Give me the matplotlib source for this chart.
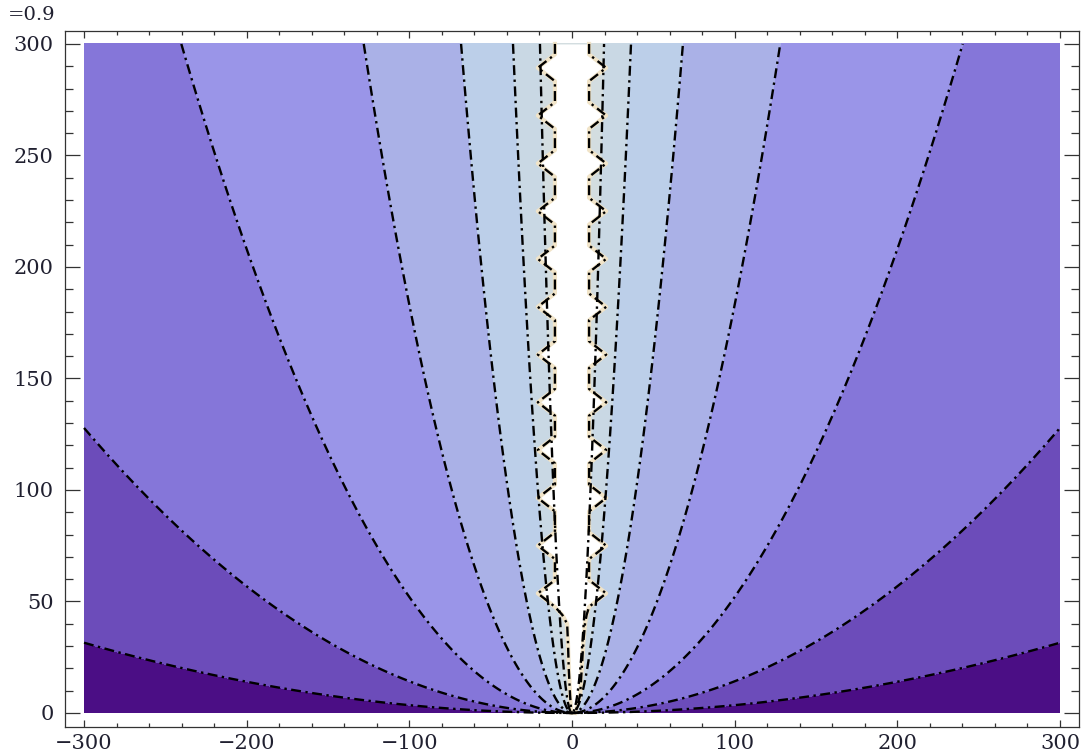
import numpy as np
import matplotlib.pyplot as plt

levels = [3.5e-4, 1.42e-3, 5.2e-3, 0.0183, 0.0645, 0.228, 0.773]
band_colors = ['#4b0e85', '#6c4cba', '#8576d9', '#9a95e8',
               '#aab1e7', '#bccfe9', '#c9d8e4', '#d3dde0']

# white gap around x = 0 (zigzag edge of the original plot)
tip_y = [289.3, 267.9, 246.4, 225.0, 203.6, 182.1,
         160.7, 139.3, 117.9, 96.4, 75.0, 53.6]
tip_x = 21.0
inner_x = 10.5
tail_y = [44, 40, 32, 20, 8, 0]
tail_left = [-6, -3, -2.5, -2, -1.2, -0.4]
tail_right = [9, 8, 7, 6, 5, 2]

xticks = [-300, -200, -100, 0, 100, 200, 300]
yticks = [0, 50, 100, 150, 200, 250, 300]
corner_label = '=0.9'

dashdot = (0, (4.2, 1.9, 1.0, 1.9))
line_w = 1.7
tick_font = {'family': 'DejaVu Serif', 'size': 15}

fig = plt.figure(figsize=(10.83, 7.56), dpi=100)
ax = fig.add_axes([65 / 1083, 29 / 756, 1014 / 1083, 696 / 756])

x = np.linspace(-300, 300, 1200)
y = np.linspace(0, 300, 600)
X, Y = np.meshgrid(x, y)
F = Y / X**2

ax.contourf(X, Y, F, levels=[-1] + levels + [1e12], colors=band_colors, zorder=1)
cs = ax.contour(X, Y, F, levels=levels, colors='black', linewidths=line_w, zorder=3)
cs.set_linestyle(dashdot)

# gap outline
gy, gl, gr = [300.0], [-inner_x], [inner_x]
for t in tip_y:
    gy += [t + 6, t, t - 6]
    gl += [-inner_x, -tip_x, -inner_x]
    gr += [inner_x, tip_x, inner_x]
gy += tail_y
gl += tail_left
gr += tail_right

ax.fill_betweenx(gy, gl, gr, color='white', lw=0, zorder=2)
for side in (gl, gr):
    ax.plot(side, gy, color='#f1e4c8', lw=3.0, zorder=2.5)
    ax.plot(side, gy, color='black', lw=line_w, ls=dashdot, zorder=4)

ax.set_xlim(-311.7, 311.7)
ax.set_ylim(-6.3, 305.8)
ax.set_xticks(xticks)
ax.set_yticks(yticks)
ax.set_xticks(np.arange(-300, 301, 20), minor=True)
ax.set_yticks(np.arange(0, 301, 10), minor=True)
ax.set_xticklabels([f'{v:d}'.replace('-', '\u2212') for v in xticks], fontdict=tick_font)
ax.set_yticklabels([str(v) for v in yticks], fontdict=tick_font)

ax.tick_params(which='both', direction='in', top=True, right=True,
               colors='#333333', labelcolor='#202030', width=0.9)
ax.tick_params(axis='y', which='major', length=11, pad=8)
ax.tick_params(axis='y', which='minor', length=6)
ax.tick_params(axis='x', which='major', length=5, pad=5)
ax.tick_params(axis='x', which='minor', length=3.2)
for sp in ax.spines.values():
    sp.set_color('#333333')
    sp.set_linewidth(0.9)

fig.text(8 / 1083, 1 - 6 / 756, corner_label, va='top', ha='left',
         fontfamily='DejaVu Serif', fontsize=14, color='#202030')

fig.savefig('out.png', dpi=100)
